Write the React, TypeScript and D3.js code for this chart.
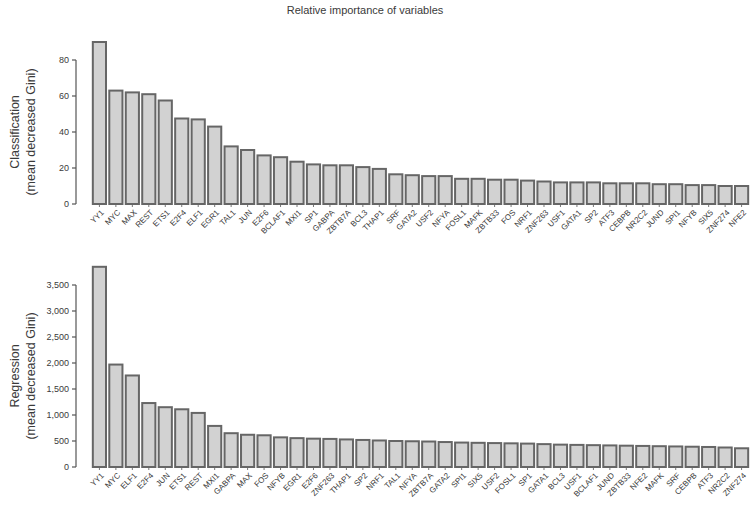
import React from "react";
import * as d3 from "d3";

const topCategories = ["YY1","MYC","MAX","REST","ETS1","E2F4","ELF1","EGR1","TAL1","JUN","E2F6","BCLAF1","MXI1","SP1","GABPA","ZBTB7A","BCL3","THAP1","SRF","GATA2","USF2","NFYA","FOSL1","MAFK","ZBTB33","FOS","NRF1","ZNF263","USF1","GATA1","SP2","ATF3","CEBPB","NR2C2","JUND","SPI1","NFYB","SIX5","ZNF274","NFE2"];
const topValues = [90,63,62,61,57.5,47.5,47,43,32,30,27,26,23.5,22,21.5,21.5,20.5,19.5,16.5,16,15.5,15.5,14,14,13.5,13.5,13,12.5,12,12,12,11.5,11.5,11.5,11,11,10.5,10.5,10,10];
const topTicks = [0,20,40,60,80];

const bottomCategories = ["YY1","MYC","ELF1","E2F4","JUN","ETS1","REST","MXI1","GABPA","MAX","FOS","NFYB","EGR1","E2F6","ZNF263","THAP1","SP2","NRF1","TAL1","NFYA","ZBTB7A","GATA2","SPI1","SIX5","USF2","FOSL1","SP1","GATA1","BCL3","USF1","BCLAF1","JUND","ZBTB33","NFE2","MAFK","SRF","CEBPB","ATF3","NR2C2","ZNF274"];
const bottomValues = [3850,1970,1760,1230,1150,1110,1040,790,650,620,610,570,555,545,540,530,520,510,500,495,490,480,470,465,460,455,450,440,430,425,420,415,410,405,400,395,390,385,375,360];
const bottomTicks = [0,500,1000,1500,2000,2500,3000,3500];

const textColor = "#3a3a3a";
const font = "Liberation Sans, Arial, sans-serif";

function Panel({ cats, vals, ticks, yMax, top, bottom, label1, label2, fmt }: any) {
  const x = d3.scaleBand().domain(cats).range([92, 749]).paddingInner(0.2).paddingOuter(0.05);
  const y = d3.scaleLinear().domain([0, yMax]).range([bottom, top]);
  const axisX = 76;
  return (
    <g>
      <line x1={axisX} x2={axisX} y1={y(ticks[0])} y2={y(ticks[ticks.length - 1])} stroke="#555" strokeWidth={1.2} />
      {ticks.map((t: number) => (
        <g key={t}>
          <line x1={axisX - 4} x2={axisX} y1={y(t)} y2={y(t)} stroke="#555" strokeWidth={1.2} />
          <text x={axisX - 7} y={y(t)} dy="0.35em" textAnchor="end" fontSize={9} fill={textColor} fontFamily={font}>{fmt(t)}</text>
        </g>
      ))}
      <text transform={`translate(19,${(top + bottom) / 2}) rotate(-90)`} textAnchor="middle" fontSize={12.5} fill={textColor} fontFamily={font}>
        <tspan x={0} dy="0">{label1}</tspan>
        <tspan x={0} dy="16">{label2}</tspan>
      </text>
      {cats.map((c: string, i: number) => (
        <rect key={c} x={x(c)} y={y(vals[i])} width={x.bandwidth()} height={bottom - y(vals[i])} fill="#d2d2d2" stroke="#666" strokeWidth={2} />
      ))}
      {cats.map((c: string) => {
        const cx = (x(c) as number) + x.bandwidth() / 2;
        return (
          <g key={"l" + c}>
            <line x1={cx} x2={cx} y1={bottom + 1} y2={bottom + 3} stroke="#777" />
            <text transform={`translate(${cx + 3},${bottom + 7}) rotate(-45)`} textAnchor="end" dy="0.35em" fontSize={8} fill={textColor} fontFamily={font}>{c}</text>
          </g>
        );
      })}
    </g>
  );
}

export default function App() {
  return (
    <svg width={750} height={522} style={{ display: "block", position: "absolute", left: 0, top: 0, background: "#fff" }}>
      <rect width={750} height={522} fill="#fff" />
      <text x={365} y={14} textAnchor="middle" fontSize={11} fill={textColor} fontFamily={font}>Relative importance of variables</text>
      <Panel cats={topCategories} vals={topValues} ticks={topTicks} yMax={80} top={60} bottom={204}
        label1="Classification" label2="(mean decreased Gini)" fmt={(t: number) => String(t)} />
      <Panel cats={bottomCategories} vals={bottomValues} ticks={bottomTicks} yMax={3500} top={285} bottom={467}
        label1="Regression" label2="(mean decreased Gini)" fmt={d3.format(",")} />
    </svg>
  );
}
